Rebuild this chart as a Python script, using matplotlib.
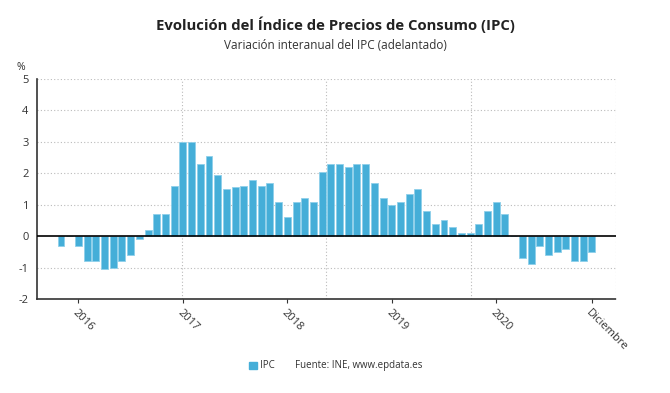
import matplotlib.pyplot as plt
import numpy as np

plt.rcParams['font.family'] = ['Open Sans', 'DejaVu Sans']

# IPC monthly, Nov 2015 .. Dec 2020
ipc = [-0.3, 0.0,
       -0.3, -0.8, -0.8, -1.05, -1.0, -0.8, -0.6, -0.1, 0.2, 0.7, 0.7, 1.6,
       3.0, 3.0, 2.3, 2.55, 1.95, 1.5, 1.55, 1.6, 1.8, 1.6, 1.7, 1.1,
       0.6, 1.1, 1.2, 1.1, 2.05, 2.3, 2.3, 2.2, 2.3, 2.3, 1.7, 1.2,
       1.0, 1.1, 1.35, 1.5, 0.8, 0.4, 0.5, 0.3, 0.1, 0.1, 0.4, 0.8,
       1.1, 0.7, 0.0, -0.7, -0.9, -0.3, -0.6, -0.5, -0.4, -0.8, -0.8, -0.5]
tick_pos = [2, 14, 26, 38, 50, 61]
tick_labels = ['2016', '2017', '2018', '2019', '2020', 'Diciembre']
yticks = [-2, -1, 0, 1, 2, 3, 4, 5]

x = np.arange(len(ipc))
bar_color = '#45aed8'
text_color = '#333333'

fig = plt.figure(figsize=(6.7, 3.93), dpi=100)
ax = fig.add_axes([0.0552, 0.239, 0.8642, 0.560])

ax.bar(x, ipc, width=0.8, color=bar_color, edgecolor='#8fd0ea', linewidth=0.6, zorder=3, label='IPC')
ax.axhline(0, color='black', linewidth=1.2, zorder=4)

pad = 2.76
lo, hi = -pad, len(ipc) - 1 + pad
ax.set_xlim(lo, hi)
ax.set_ylim(-2, 5)

# dotted grid
for v in yticks[1:]:
    if v != 0:
        ax.axhline(v, color='#bbbbbb', linestyle=(0, (1, 2)), linewidth=0.8, zorder=1)
for k in range(1, 5):
    ax.axvline(lo + k * (hi - lo) / 4, color='#bbbbbb', linestyle=(0, (1, 2)), linewidth=0.8, zorder=1)

for s in ['top', 'right']:
    ax.spines[s].set_visible(False)
for s in ['left', 'bottom']:
    ax.spines[s].set_linestyle((0, (1, 1)))
    ax.spines[s].set_linewidth(1.2)
    ax.spines[s].set_color('#333333')

ax.set_yticks(yticks)
ax.set_yticklabels([str(v) for v in yticks], fontsize=8, color=text_color)
ax.tick_params(axis='y', length=0, pad=6)
ax.set_xticks(tick_pos)
ax.set_xticklabels(tick_labels, fontsize=8, color=text_color, rotation=-45, ha='left', va='top',
                   rotation_mode='anchor')
ax.tick_params(axis='x', length=3, color='#333333', pad=3)

fig.text(0.031, 0.827, '%', fontsize=7.5, color=text_color, ha='center', va='center')

fig.text(0.5, 0.936, 'Evolución del Índice de Precios de Consumo (IPC)', fontsize=10.7, fontweight='bold',
         color='#222222', ha='center', va='center')
fig.text(0.5, 0.883, 'Variación interanual del IPC (adelantado)', fontsize=8.5,
         color=text_color, ha='center', va='center')

# legend + source
fig.patches.append(plt.Rectangle((0.372, 0.061), 0.011, 0.018, transform=fig.transFigure,
                                 color=bar_color, figure=fig))
fig.text(0.388, 0.069, 'IPC', fontsize=7, color=text_color, ha='left', va='center')
fig.text(0.44, 0.069, 'Fuente: INE, www.epdata.es', fontsize=7, color=text_color, ha='left', va='center')

fig.savefig('out.png', dpi=100)
